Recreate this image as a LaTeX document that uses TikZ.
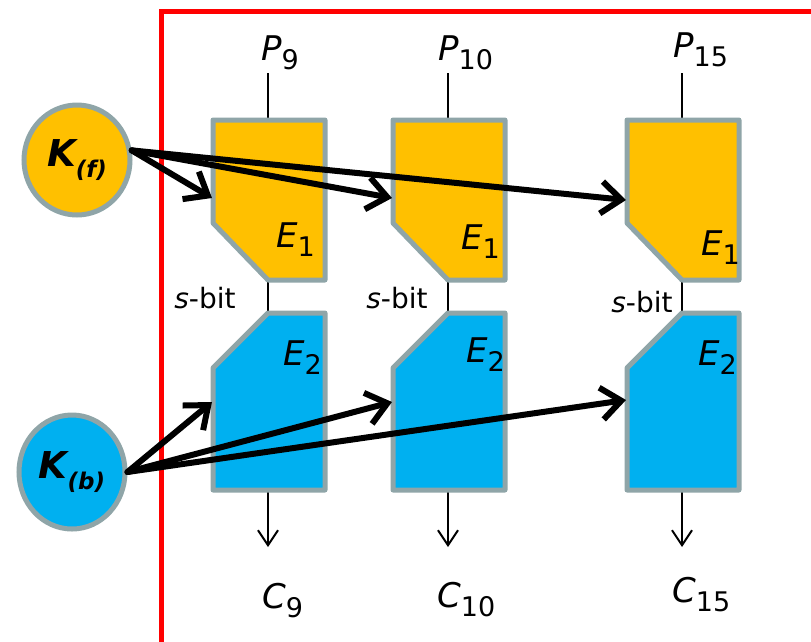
\documentclass[tikz,border=0pt]{standalone}
\usepackage{fontspec}
\setmainfont{DejaVu Sans}
\usetikzlibrary{arrows.meta,shapes.geometric}
\definecolor{encyellow}{HTML}{FFC000}
\definecolor{encblue}{HTML}{00B0F0}
\definecolor{edgegray}{HTML}{8FA5A8}
\newcommand\subtxt[2][27]{\raisebox{-0.28em}{\fontsize{#1}{#1}\selectfont #2}}

\begin{document}
\begin{tikzpicture}[x=1pt, y=-1pt,
  encf/.style={draw=edgegray, line width=5pt, fill=encyellow, line join=round},
  encb/.style={draw=edgegray, line width=5pt, fill=encblue, line join=round},
  keynode/.style={ellipse, draw=edgegray, line width=5pt, inner sep=0pt, minimum width=106pt, font=\fontsize{37}{40}\selectfont\bfseries\itshape},
  lab/.style={inner sep=0pt, anchor=base west, font=\fontsize{34}{40}\selectfont},
  sbit/.style={inner sep=0pt, anchor=base, font=\fontsize{28}{32}\selectfont},
  wire/.style={line width=2pt},
  outarr/.style={line width=2pt, -{Straight Barb[length=15pt,width=20pt]}},
  karr/.style={line width=6pt, line cap=round, -{Straight Barb[length=20pt,width=32pt]}},
  redframe/.style={draw=red, line width=5pt}
]
\useasboundingbox (0,0) rectangle (811,641);
\draw[redframe] (161,650) -- (161,11) -- (820,11);

% keys
\node[keynode, fill=encyellow, minimum height=110pt] (kf) at (77,160) {K\subtxt[23]{(f)}};
\node[keynode, fill=encblue, minimum height=114pt] (kb) at (72,472) {K\subtxt[23]{(b)}};

% block anchors
\coordinate (f9top) at (268,120); \coordinate (f9bot) at (268,280); \coordinate (f9in) at (212,198);
\coordinate (b9top) at (268,313); \coordinate (b9bot) at (268,490); \coordinate (b9in) at (212,402);
\coordinate (f10top) at (448,120); \coordinate (f10bot) at (448,280); \coordinate (f10in) at (392,198);
\coordinate (b10top) at (448,313); \coordinate (b10bot) at (448,490); \coordinate (b10in) at (392,402);
\coordinate (f15top) at (682,120); \coordinate (f15bot) at (682,280); \coordinate (f15in) at (626,200);
\coordinate (b15top) at (682,313); \coordinate (b15bot) at (682,490); \coordinate (b15in) at (626,400);

% wires
\draw[wire] (f9top) -- ++(0,-47); \draw[wire] (f9bot) -- (b9top); \draw[outarr] (b9bot) -- ++(0,57);
\draw[wire] (f10top) -- ++(0,-47); \draw[wire] (f10bot) -- (b10top); \draw[outarr] (b10bot) -- ++(0,57);
\draw[wire] (f15top) -- ++(0,-47); \draw[wire] (f15bot) -- (b15top); \draw[outarr] (b15bot) -- ++(0,57);

% E1 / E2 blocks
\draw[encf] (213,120) -- (325,120) -- (325,280) -- (f9bot) -- (213,223) -- cycle;
\draw[encb] (b9top) -- (325,313) -- (325,490) -- (213,490) -- (213,368) -- cycle;
\draw[encf] (393,120) -- (505,120) -- (505,280) -- (f10bot) -- (393,223) -- cycle;
\draw[encb] (b10top) -- (505,313) -- (505,490) -- (393,490) -- (393,368) -- cycle;
\draw[encf] (627,120) -- (739,120) -- (739,280) -- (f15bot) -- (627,223) -- cycle;
\draw[encb] (b15top) -- (739,313) -- (739,490) -- (627,490) -- (627,368) -- cycle;

% labels
\node[lab] (p9) at (261,60) {{\itshape P}\subtxt{9}};
\node[lab] (p10) at (438,60) {{\itshape P}\subtxt{10}};
\node[lab] (p15) at (673,57) {{\itshape P}\subtxt{15}};
\node[lab] (c9) at (262,608) {{\itshape C}\subtxt{9}};
\node[lab] (c10) at (437,607) {{\itshape C}\subtxt{10}};
\node[lab] (c15) at (672,602) {{\itshape C}\subtxt{15}};
\node[lab] (e1a) at (276,247) {{\itshape E}\subtxt{1}};
\node[lab] (e1b) at (461,249) {{\itshape E}\subtxt{1}};
\node[lab] (e1c) at (701,255) {{\itshape E}\subtxt{1}};
\node[lab] (e2a) at (283,365) {{\itshape E}\subtxt{2}};
\node[lab] (e2b) at (466,362) {{\itshape E}\subtxt{2}};
\node[lab] (e2c) at (698,365) {{\itshape E}\subtxt{2}};
\node[sbit] (s9) at (205,308) {{\itshape s}-bit};
\node[sbit] (s10) at (397,308) {{\itshape s}-bit};
\node[sbit] (s15) at (642,312) {{\itshape s}-bit};

% key arrows
\draw[karr] (kf.10) -- (f9in); \draw[karr] (kf.10) -- (f10in); \draw[karr] (kf.10) -- (f15in);
\draw[karr] (kb.east) -- (b9in); \draw[karr] (kb.east) -- (b10in); \draw[karr] (kb.east) -- (b15in);
\end{tikzpicture}
\end{document}
